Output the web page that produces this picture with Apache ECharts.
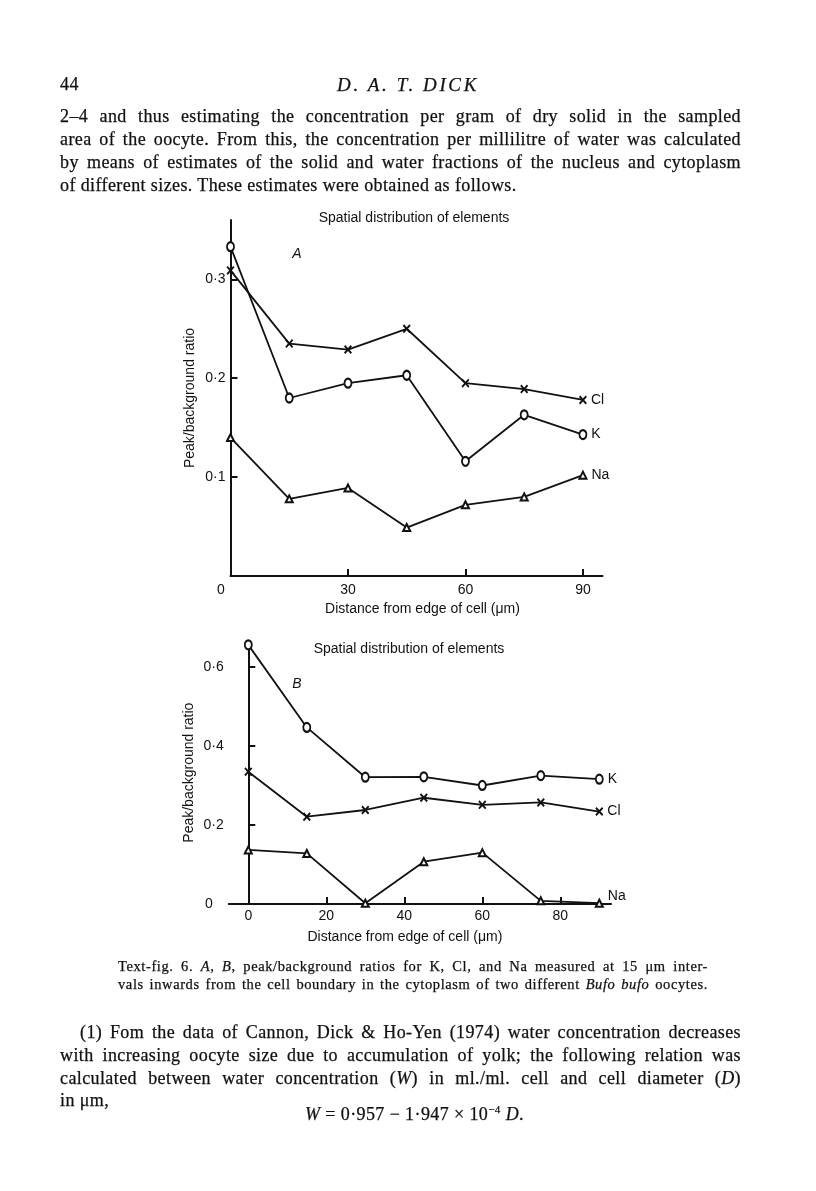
<!DOCTYPE html>
<html><head><meta charset="utf-8">
<script src="https://cdn.jsdelivr.net/npm/echarts@6/dist/echarts.min.js"></script>
<style>
body{margin:0;background:#fff;}
#page{position:relative;width:816px;height:1191px;overflow:hidden;background:#fff;}
#chart{position:absolute;left:0;top:0;width:816px;height:1191px;}
.t{position:absolute;font-family:"Liberation Serif",serif;color:#111;white-space:nowrap;-webkit-text-stroke:0.25px #111;}
.j{text-align:justify;text-align-last:justify;white-space:normal;}
.body{font-size:18px;line-height:23px;height:23px;letter-spacing:0.4px;}
.cap{font-size:14.5px;line-height:18px;height:18px;letter-spacing:0.6px;}
</style></head>
<body><div id="page">
<div id="chart"></div>
<div class="t body" style="left:60px;top:73px;">44</div>
<div class="t body" style="left:0;width:816px;top:73px;text-align:center;font-style:italic;font-size:19px;letter-spacing:2.6px;">D. A. T. DICK</div>
<div class="t body j" style="left:60px;width:681px;top:105px;">2–4 and thus estimating the concentration per gram of dry solid in the sampled</div>
<div class="t body j" style="left:60px;width:681px;top:128px;">area of the oocyte. From this, the concentration per millilitre of water was calculated</div>
<div class="t body j" style="left:60px;width:681px;top:151px;">by means of estimates of the solid and water fractions of the nucleus and cytoplasm</div>
<div class="t body" style="left:60px;top:174px;">of different sizes. These estimates were obtained as follows.</div>
<div class="t cap j" style="left:118px;width:590px;top:957px;">Text-fig. 6. <i>A</i>, <i>B</i>, peak/background ratios for K, Cl, and Na measured at 15 μm inter-</div>
<div class="t cap j" style="left:118px;width:590px;top:975px;">vals inwards from the cell boundary in the cytoplasm of two different <i>Bufo bufo</i> oocytes.</div>
<div class="t body j" style="left:80px;width:661px;top:1021px;">(1) Fom the data of Cannon, Dick &amp; Ho-Yen (1974) water concentration decreases</div>
<div class="t body j" style="left:60px;width:681px;top:1044px;">with increasing oocyte size due to accumulation of yolk; the following relation was</div>
<div class="t body j" style="left:60px;width:681px;top:1067px;">calculated between water concentration (<i>W</i>) in ml./ml. cell and cell diameter (<i>D</i>)</div>
<div class="t body" style="left:60px;top:1089px;">in μm,</div>
<div class="t body" style="left:305px;top:1098px;"><i>W</i> = 0·957 − 1·947 × 10<sup style="font-size:11px;">−4</sup> <i>D</i>.</div>
</div>
<script>
// ---- data ----
const distances = [0, 15, 30, 45, 60, 75, 90];
const kA  = [0.333, 0.180, 0.195, 0.203, 0.116, 0.163, 0.143];
const clA = [0.309, 0.235, 0.229, 0.250, 0.195, 0.189, 0.178];
const naA = [0.140, 0.078, 0.089, 0.049, 0.072, 0.080, 0.102];
const kB  = [0.656, 0.447, 0.321, 0.322, 0.300, 0.325, 0.316];
const clB = [0.335, 0.221, 0.238, 0.269, 0.251, 0.257, 0.234];
const naB = [0.137, 0.128, 0.002, 0.107, 0.130, 0.008, 0.002];
const xTicksA = [0, 30, 60, 90];
const yTicksA = [0.1, 0.2, 0.3];
const xTicksB = [0, 20, 40, 60, 80];
const yTicksB = [0, 0.2, 0.4, 0.6];
const titleText = 'Spatial distribution of elements';
const xName = 'Distance from edge of cell (μm)';
const yName = 'Peak/background ratio';

const INK = '#111';
const SANS = '"Liberation Sans", Arial, sans-serif';
const FS = 14;
const crossPath = 'path://M0,1.6 L1.6,0 L5,3.4 L8.4,0 L10,1.6 L6.6,5 L10,8.4 L8.4,10 L5,6.6 L1.6,10 L0,8.4 L3.4,5 Z';
const dot = v => (v === 0 ? '0' : v.toFixed(1).replace('.', '·'));

function mkData(vals, name, labelOffset) {
  return distances.map((d, i) => {
    const item = { value: [d, vals[i]] };
    if (i === vals.length - 1) {
      item.label = { show: true, position: 'right', distance: 4, formatter: name,
        color: INK, fontFamily: SANS, fontSize: FS, offset: labelOffset || [0, 0] };
    }
    return item;
  });
}
function mkSeries(vals, name, kind, gi, labelOffset) {
  const sym = kind === 'K' ? 'emptyCircle' : (kind === 'Cl' ? crossPath : 'emptyTriangle');
  const size = kind === 'K' ? [7, 9] : (kind === 'Cl' ? [8, 9] : 7);
  return {
    type: 'line', name: name, xAxisIndex: gi, yAxisIndex: gi,
    data: mkData(vals, name, labelOffset),
    symbol: sym, symbolSize: size, showAllSymbol: true,
    lineStyle: { color: INK, width: 1.8 },
    itemStyle: { color: INK, borderColor: INK, borderWidth: kind === 'Cl' ? 0 : 2.2 },
    emphasis: { disabled: true }, silent: true, animation: false, z: 3
  };
}
const axisCommon = {
  axisLine: { show: true, lineStyle: { color: INK, width: 2 } },
  splitLine: { show: false },
  axisTick: { show: true, inside: true, length: 7, lineStyle: { color: INK, width: 2 } },
  nameTextStyle: { color: INK, fontFamily: SANS, fontSize: FS }
};
const labelStyle = { color: INK, fontFamily: SANS, fontSize: FS };

const chart = echarts.init(document.getElementById('chart'), null, { renderer: 'canvas' });
chart.setOption({
  backgroundColor: 'transparent',
  animation: false,
  grid: [
    { left: 230.5, top: 220, width: 372, height: 356 },
    { left: 228.8, top: 641.3, width: 382.2, height: 262.7 }
  ],
  xAxis: [
    Object.assign({}, axisCommon, {
      type: 'value', gridIndex: 0, min: 0, max: 95,
      name: xName, nameLocation: 'middle', nameGap: 26,
      nameTextStyle: Object.assign({}, axisCommon.nameTextStyle, { padding: [0, 0, 0, 12] }),
      axisTick: Object.assign({}, axisCommon.axisTick, { customValues: xTicksA.filter(v => v > 0) }),
      axisLabel: Object.assign({}, labelStyle, { customValues: xTicksA, margin: 7,
        formatter: v => (v === 0 ? '{o|0}' : String(v)),
        rich: { o: { padding: [0, 19, 0, 0], color: INK, fontFamily: SANS, fontSize: FS } } })
    }),
    Object.assign({}, axisCommon, {
      type: 'value', gridIndex: 1, min: -5, max: 93,
      name: xName, nameLocation: 'middle', nameGap: 26,
      nameTextStyle: Object.assign({}, axisCommon.nameTextStyle, { padding: [0, 30, 0, 0] }),
      axisTick: Object.assign({}, axisCommon.axisTick, { customValues: xTicksB }),
      axisLabel: Object.assign({}, labelStyle, { customValues: xTicksB, margin: 5 })
    })
  ],
  yAxis: [
    Object.assign({}, axisCommon, {
      type: 'value', gridIndex: 0, min: 0, max: 0.36,
      name: yName, nameLocation: 'middle', nameGap: 33,
      axisTick: Object.assign({}, axisCommon.axisTick, { customValues: yTicksA }),
      axisLabel: Object.assign({}, labelStyle, { customValues: yTicksA, margin: 5, formatter: dot })
    }),
    Object.assign({}, axisCommon, {
      type: 'value', gridIndex: 1, min: 0, max: 0.665,
      name: yName, nameLocation: 'middle', nameGap: 33,
      axisTick: Object.assign({}, axisCommon.axisTick, { customValues: yTicksB.filter(v => v > 0) }),
      axisLabel: Object.assign({}, labelStyle, { customValues: yTicksB, margin: 5,
        formatter: v => (v === 0 ? '{o|0}' : dot(v)),
        rich: { o: { padding: [0, 11, 0, 0], color: INK, fontFamily: SANS, fontSize: FS } } })
    })
  ],
  graphic: [
    { type: 'text', x: 414, y: 218, style: { text: titleText, textAlign: 'center', textVerticalAlign: 'middle', fill: INK, font: FS + 'px ' + SANS } },
    { type: 'text', x: 297, y: 254, style: { text: 'A', textAlign: 'center', textVerticalAlign: 'middle', fill: INK, font: 'italic 14px ' + SANS } },
    { type: 'text', x: 409, y: 649, style: { text: titleText, textAlign: 'center', textVerticalAlign: 'middle', fill: INK, font: FS + 'px ' + SANS } },
    { type: 'text', x: 297, y: 684, style: { text: 'B', textAlign: 'center', textVerticalAlign: 'middle', fill: INK, font: 'italic 14px ' + SANS } }
  ],
  series: [
    mkSeries(clA, 'Cl', 'Cl', 0),
    mkSeries(kA, 'K', 'K', 0),
    mkSeries(naA, 'Na', 'Na', 0),
    mkSeries(clB, 'Cl', 'Cl', 1),
    mkSeries(kB, 'K', 'K', 1),
    mkSeries(naB, 'Na', 'Na', 1, [0, -7])
  ]
});
</script>
</body></html>
